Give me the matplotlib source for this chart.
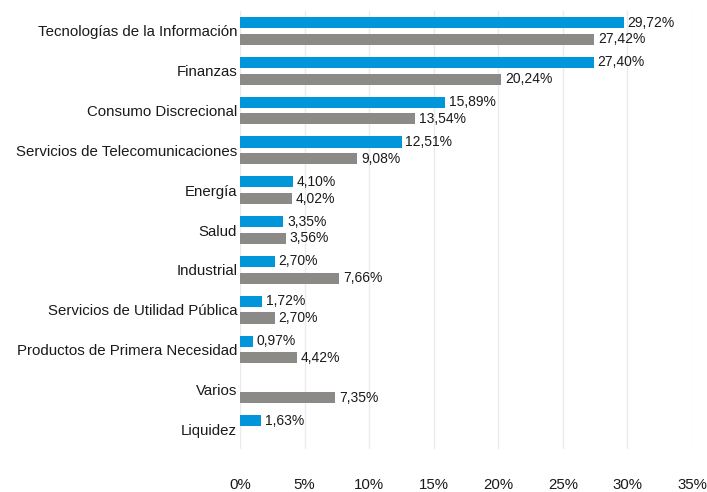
import numpy as np
import matplotlib.pyplot as plt

plt.rcParams["font.family"] = ["Liberation Sans", "DejaVu Sans"]

CATEGORIES = [
    "Tecnologías de la Información",
    "Finanzas",
    "Consumo Discrecional",
    "Servicios de Telecomunicaciones",
    "Energía",
    "Salud",
    "Industrial",
    "Servicios de Utilidad Pública",
    "Productos de Primera Necesidad",
    "Varios",
    "Liquidez",
]
FONDO = [29.72, 27.40, 15.89, 12.51, 4.10, 3.35, 2.70, 1.72, 0.97, None, 1.63]
INDICE = [27.42, 20.24, 13.54, 9.08, 4.02, 3.56, 7.66, 2.70, 4.42, 7.35, None]
TICKS = [0, 5, 10, 15, 20, 25, 30, 35]

BLUE = "#0096D9"
GRAY = "#8C8A86"


def fmt(v):
    return f"{v:.2f}".replace(".", ",") + "%"


fig = plt.figure(figsize=(7.07, 4.92), dpi=100)
ax = fig.add_axes([240 / 707, 1 - 449 / 492, 452 / 707, 438 / 492])

y = np.arange(len(CATEGORIES))
off = 0.21
h = 0.28

for vals, color, d in [(FONDO, BLUE, -off), (INDICE, GRAY, off)]:
    for yi, v in zip(y, vals):
        if v is None:
            continue
        ax.barh(yi + d, v, height=h, color=color, zorder=2)
        ax.text(v + 0.3, yi + d, fmt(v), va="center", ha="left",
                fontsize=10, color="#1a1a1a")

ax.set_ylim(len(CATEGORIES) - 0.5, -0.5)
ax.set_xlim(0, 35)
ax.set_xticks(TICKS)
ax.set_xticklabels([f"{t}%" for t in TICKS], fontsize=10.8, color="#1a1a1a")
ax.set_yticks(y)
ax.set_yticklabels(CATEGORIES, fontsize=10.8, color="#1a1a1a")
ax.tick_params(axis="x", length=0, pad=21)
ax.tick_params(axis="y", length=0, pad=2)
ax.grid(axis="x", color="#EBEBEB", linewidth=1, zorder=0)
for s in ax.spines.values():
    s.set_visible(False)

fig.savefig("out.png", dpi=100)
